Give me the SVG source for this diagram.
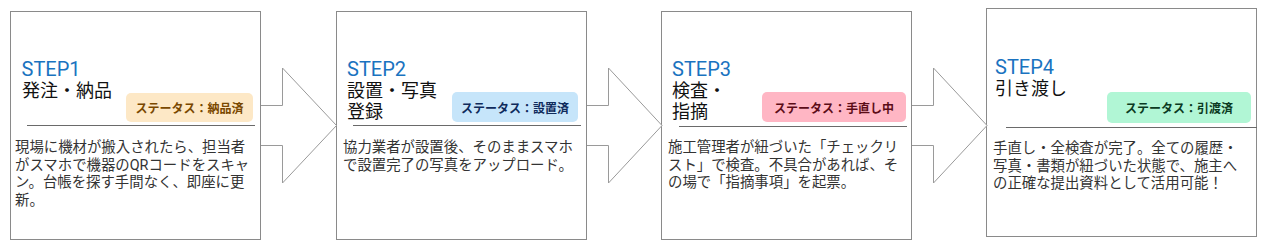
<svg xmlns="http://www.w3.org/2000/svg" width="1270" height="247" viewBox="0 0 1270 247">
<style>
.box{fill:#fff;stroke:#8a8a8a;stroke-width:1}
.arrow{fill:#fff;stroke:#9a9a9a;stroke-width:1;stroke-linejoin:miter}
.step{font-family:Roboto,"Noto Sans CJK JP",sans-serif;font-size:20px;fill:#1a73c0}
.title{font-family:Roboto,"Noto Sans CJK JP",sans-serif;font-size:18px;fill:#111}
.badge-t{font-family:Roboto,"Noto Sans CJK JP",sans-serif;font-size:12px;font-weight:bold;text-anchor:middle}
.div{stroke:#6a6a6a;stroke-width:1}
.body{font-family:Roboto,"Noto Sans CJK JP",sans-serif;font-size:14.4px;fill:#333}
</style>
<rect width="1270" height="247" fill="#fff"/>
<g id="step1">
<rect class="box" x="10.5" y="11.5" width="250" height="228"/>
<text class="step" x="21.5" y="76">STEP1</text>
<text class="title" x="22" y="96.5">発注・納品</text>
<rect x="126" y="93" width="127" height="29" rx="5" fill="#fde8c6"/>
<text class="badge-t" x="189.5" y="112.5" fill="#7a4800">ステータス：納品済</text>
<line class="div" x1="27" y1="125.5" x2="255" y2="125.5"/>
<text class="body" x="15" y="152"><tspan x="15">現場に機材が搬入されたら、担当者</tspan><tspan x="15" dy="17.5">がスマホで機器のQRコードをスキャ</tspan><tspan x="15" dy="17.5">ン。台帳を探す手間なく、即座に更</tspan><tspan x="15" dy="17.5">新。</tspan></text>
</g>
<g id="step2">
<rect class="box" x="336.5" y="11.5" width="250" height="228"/>
<text class="step" x="347" y="76">STEP2</text>
<text class="title" x="347" y="96.5">設置・写真</text>
<text class="title" x="347" y="118">登録</text>
<rect x="452" y="92" width="126" height="30" rx="5" fill="#c6e5fa"/>
<text class="badge-t" x="515" y="112.5" fill="#0f2b5c">ステータス：設置済</text>
<line class="div" x1="353" y1="125.5" x2="581" y2="125.5"/>
<text class="body" x="343" y="152"><tspan x="343">協力業者が設置後、そのままスマホ</tspan><tspan x="343" dy="17.5">で設置完了の写真をアップロード。</tspan></text>
</g>
<g id="step3">
<rect class="box" x="661.5" y="11.5" width="250" height="228"/>
<text class="step" x="672" y="76">STEP3</text>
<text class="title" x="672" y="96.5">検査・</text>
<text class="title" x="672" y="118">指摘</text>
<rect x="762" y="92" width="144" height="30" rx="5" fill="#ffb6c4"/>
<text class="badge-t" x="834" y="112.5" fill="#5c0c18">ステータス：手直し中</text>
<line class="div" x1="679" y1="126.5" x2="907" y2="126.5"/>
<text class="body" x="668" y="152"><tspan x="668">施工管理者が紐づいた「チェックリ</tspan><tspan x="668" dy="17.5">スト」で検査。不具合があれば、そ</tspan><tspan x="668" dy="17.5">の場で「指摘事項」を起票。</tspan></text>
</g>
<g id="step4">
<rect class="box" x="986.5" y="8.5" width="270" height="228"/>
<text class="step" x="995" y="74">STEP4</text>
<text class="title" x="995" y="94.5">引き渡し</text>
<rect x="1107" y="92" width="144" height="31" rx="5" fill="#b1f6d5"/>
<text class="badge-t" x="1179" y="112.5" fill="#0b3a22">ステータス：引渡済</text>
<line class="div" x1="1006" y1="127.5" x2="1257" y2="127.5"/>
<text class="body" x="993" y="153"><tspan x="993">手直し・全検査が完了。全ての履歴・</tspan><tspan x="993" dy="17.5">写真・書類が紐づいた状態で、施主へ</tspan><tspan x="993" dy="17.5">の正確な提出資料として活用可能！</tspan></text>
</g>
<g id="connectors">
<path class="arrow" d="M261,105.5 H282.5 V68 L336.5,125.5 L282.5,183 V145.5 H261"/>
<path class="arrow" d="M587,105.5 H608.5 V68 L662,125.5 L608.5,183 V145.5 H587"/>
<path class="arrow" d="M912,105.5 H933.5 V68 L987,125.5 L933.5,183 V145.5 H912"/>
</g>
</svg>
